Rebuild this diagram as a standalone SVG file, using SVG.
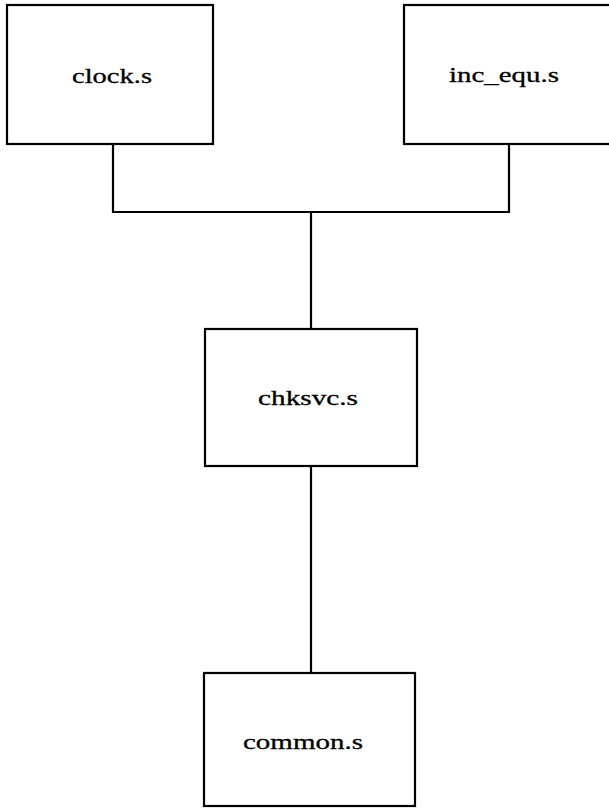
<svg xmlns="http://www.w3.org/2000/svg" width="609" height="810" viewBox="0 0 609 810">
  <style>
    .box { fill: #ffffff; stroke: #000000; stroke-width: 2.2; }
    .wire { fill: none; stroke: #000000; stroke-width: 2.2; }
    .label { font-family: "Liberation Serif", "DejaVu Serif", serif; font-size: 22px; fill: #000000; stroke: #000000; stroke-width: 0.3; text-anchor: middle; }
  </style>
  <rect width="609" height="810" fill="#ffffff"/>
  <g id="connectors">
    <polyline class="wire" points="113,144 113,212 509,212 509,144"/>
    <line class="wire" x1="311" y1="212" x2="311" y2="329"/>
    <line class="wire" x1="311" y1="466" x2="311" y2="673"/>
  </g>
  <g id="clock">
    <rect class="box" x="7" y="5" width="206" height="139"/>
    <text class="label" x="112" y="83" textLength="80" lengthAdjust="spacingAndGlyphs">clock.s</text>
  </g>
  <g id="inc_equ">
    <rect class="box" x="404" y="5" width="210" height="139"/>
    <text class="label" x="504" y="82" textLength="110" lengthAdjust="spacingAndGlyphs">inc_equ.s</text>
  </g>
  <g id="chksvc">
    <rect class="box" x="205" y="329" width="212" height="137"/>
    <text class="label" x="308" y="405" textLength="100" lengthAdjust="spacingAndGlyphs">chksvc.s</text>
  </g>
  <g id="common">
    <rect class="box" x="204" y="673" width="211" height="133"/>
    <text class="label" x="303" y="749" textLength="120" lengthAdjust="spacingAndGlyphs">common.s</text>
  </g>
</svg>
